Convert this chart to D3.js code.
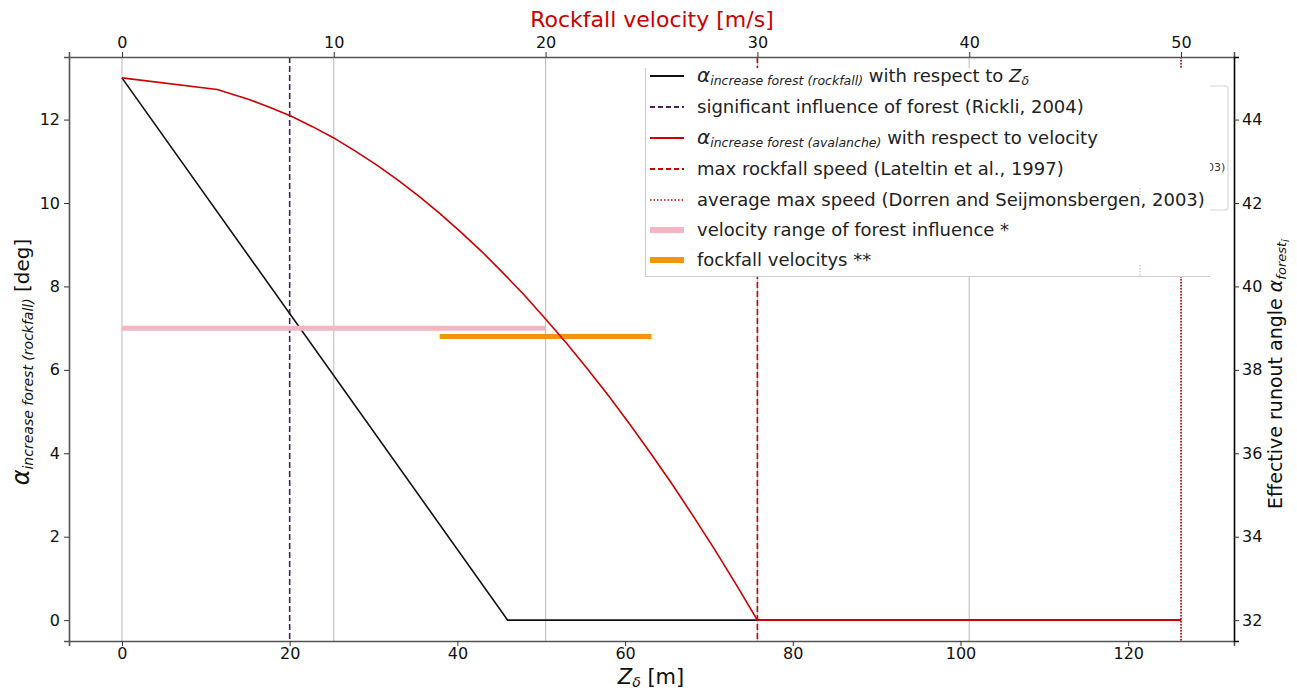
<!DOCTYPE html>
<html>
<head>
<meta charset="utf-8">
<script src="https://cdn.jsdelivr.net/npm/d3@7/dist/d3.min.js"></script>
<style>
  html, body { margin: 0; padding: 0; background: #fff; }
  svg { display: block; font-family: "DejaVu Sans", sans-serif; }
</style>
</head>
<body>
<svg id="chart" width="1297" height="691"></svg>
<script>
// ---- data ----
const zTicks = [0, 20, 40, 60, 80, 100, 120];
const velocityTicks = [0, 10, 20, 30, 40, 50];
const alphaTicks = [0, 2, 4, 6, 8, 10, 12];
const runoutTicks = [32, 34, 36, 38, 40, 42, 44];

// alpha increase (rockfall) vs Z_delta [m]
const rockfallZ = [0, 46, 126.3];
const rockfallAlpha = [13, 0, 0];

// alpha increase (avalanche) vs rockfall velocity [m/s]
const avalancheV = [0, 4.5, 6, 7, 8, 9, 10, 11, 12, 13, 14, 15, 16, 17, 18, 19, 20,
                    21, 22, 23, 24, 25, 26, 27, 28, 29, 30, 50];
const avalancheAlpha = [13, 12.72, 12.48, 12.29, 12.08, 11.83, 11.56, 11.25, 10.92, 10.56, 10.17, 9.75, 9.3,
                        8.83, 8.32, 7.79, 7.22, 6.63, 6.01, 5.36, 4.68, 3.97, 3.24, 2.47, 1.68, 0.85, 0, 0];

// reference lines
const forestInfluenceZ = 20;      // Rickli, 2004
const maxRockfallSpeedV = 30;     // Lateltin et al., 1997
const avgMaxSpeedV = 50;          // Dorren and Seijmonsbergen, 2003

// velocity ranges
const forestRangeV = [0, 20];
const forestRangeAlpha = 7.0;
const rockfallRangeV = [15, 25];
const rockfallRangeAlpha = 6.8;

const runoutOffset = 32;

// ---- layout ----
const svg = d3.select("#chart");
const L = 69, R = 1234, T = 57, B = 641;

const xZ = d3.scaleLinear().domain([-6.315, 132.615]).range([L, R]);
const xV = d3.scaleLinear().domain([-2.5, 52.5]).range([L, R]);
const y = d3.scaleLinear().domain([-0.5, 13.5]).range([B, T]);
const yR = d3.scaleLinear().domain([-0.5 + runoutOffset, 13.5 + runoutOffset]).range([B, T]);

const RED = "#cc0000";

// grid lines from the velocity axis
svg.append("g").selectAll("line").data(velocityTicks).join("line")
  .attr("x1", d => xV(d)).attr("x2", d => xV(d))
  .attr("y1", T).attr("y2", B)
  .attr("stroke", "#c4c4c4").attr("stroke-width", 1.2);

// reference lines
svg.append("line")
  .attr("x1", xZ(forestInfluenceZ)).attr("x2", xZ(forestInfluenceZ))
  .attr("y1", T).attr("y2", B)
  .attr("stroke", "#4a2060").attr("stroke-width", 1.6).attr("stroke-dasharray", "6,3");
svg.append("line")
  .attr("x1", xV(maxRockfallSpeedV)).attr("x2", xV(maxRockfallSpeedV))
  .attr("y1", T).attr("y2", B)
  .attr("stroke", RED).attr("stroke-width", 1.6).attr("stroke-dasharray", "6,3");
svg.append("line")
  .attr("x1", xV(avgMaxSpeedV)).attr("x2", xV(avgMaxSpeedV))
  .attr("y1", T).attr("y2", B)
  .attr("stroke", RED).attr("stroke-width", 1.6).attr("stroke-dasharray", "1.5,1.5");

// rockfall curve
const rockLine = d3.line().x(d => xZ(d[0])).y(d => y(d[1]));
svg.append("path")
  .datum(rockfallZ.map((z, i) => [z, rockfallAlpha[i]]))
  .attr("d", rockLine).attr("fill", "none")
  .attr("stroke", "#111").attr("stroke-width", 1.6);

// velocity ranges
svg.append("line")
  .attr("x1", xV(forestRangeV[0])).attr("x2", xV(forestRangeV[1]))
  .attr("y1", y(forestRangeAlpha)).attr("y2", y(forestRangeAlpha))
  .attr("stroke", "#f5b5c3").attr("stroke-width", 5);
svg.append("line")
  .attr("x1", xV(rockfallRangeV[0])).attr("x2", xV(rockfallRangeV[1]))
  .attr("y1", y(rockfallRangeAlpha)).attr("y2", y(rockfallRangeAlpha))
  .attr("stroke", "#f0960c").attr("stroke-width", 5);

// avalanche curve
const avLine = d3.line().x(d => xV(d[0])).y(d => y(d[1]));
svg.append("path")
  .datum(avalancheV.map((v, i) => [v, avalancheAlpha[i]]))
  .attr("d", avLine).attr("fill", "none")
  .attr("stroke", RED).attr("stroke-width", 1.6);

// ---- legend (with an older frame peeking out behind it) ----
svg.append("rect")
  .attr("x", 900).attr("y", 86).attr("width", 328).attr("height", 124)
  .attr("rx", 3).attr("fill", "#fff").attr("stroke", "#d6d6d6").attr("stroke-width", 1.2);
svg.append("text").attr("x", 1207).attr("y", 171)
  .attr("font-size", 11).attr("fill", "#333").text("03)");

const lg = svg.append("g");
lg.append("rect").attr("x", 645).attr("y", 68).attr("width", 565).attr("height", 209)
  .attr("fill", "#fff");
lg.append("path").attr("d", "M645.5,68 V276.5 H1210")
  .attr("fill", "none").attr("stroke", "#cfcfcf").attr("stroke-width", 1.2);

// faint leftovers of the dotted line inside the legend area
[[188, 196], [265, 277]].forEach(([a, b]) => {
  lg.append("line").attr("x1", 1140).attr("x2", 1140).attr("y1", a).attr("y2", b)
    .attr("stroke", "#f3b9bf").attr("stroke-width", 1.4).attr("stroke-dasharray", "1.5,1.5");
});

const rows = [76, 107, 138, 169, 200, 230, 260];
const hx0 = 650, hx1 = 684, tx = 697, fs = 18;
const handles = [
  { stroke: "#111", w: 1.8, dash: null },
  { stroke: "#4a2060", w: 1.8, dash: "5,3" },
  { stroke: RED, w: 1.8, dash: null },
  { stroke: RED, w: 1.8, dash: "5,3" },
  { stroke: RED, w: 1.6, dash: "1.5,2" },
  { stroke: "#f5b5c3", w: 6, dash: null },
  { stroke: "#f0960c", w: 6, dash: null }
];
handles.forEach((h, i) => {
  const ln = lg.append("line").attr("x1", hx0).attr("x2", hx1)
    .attr("y1", rows[i]).attr("y2", rows[i])
    .attr("stroke", h.stroke).attr("stroke-width", h.w);
  if (h.dash) ln.attr("stroke-dasharray", h.dash);
});

function alphaEntry(row, sub, rest, tail) {
  const t = lg.append("text").attr("x", tx).attr("y", row + 6).attr("font-size", fs).attr("fill", "#222");
  t.append("tspan").attr("font-style", "italic").attr("font-size", 20).text("α");
  t.append("tspan").attr("font-style", "italic").attr("font-size", 12.5).attr("dy", 3).text(sub);
  t.append("tspan").attr("dy", -3).text(rest);
  if (tail) tail(t);
}
alphaEntry(rows[0], "increase forest (rockfall)", " with respect to ", t => {
  t.append("tspan").attr("font-style", "italic").text("Z");
  t.append("tspan").attr("font-style", "italic").attr("font-size", 12.5).attr("dy", 3).text("δ");
});
const plain = [
  [1, "significant influence of forest (Rickli, 2004)"],
  [3, "max rockfall speed (Lateltin et al., 1997)"],
  [4, "average max speed (Dorren and Seijmonsbergen, 2003)"],
  [5, "velocity range of forest influence *"],
  [6, "fockfall velocitys **"]
];
plain.forEach(([i, s]) => {
  lg.append("text").attr("x", tx).attr("y", rows[i] + 6).attr("font-size", fs)
    .attr("fill", "#222").text(s);
});
alphaEntry(rows[2], "increase forest (avalanche)", " with respect to velocity");

// ---- axes ----
const tickFont = 16;
const axB = svg.append("g").attr("transform", `translate(0,${B})`)
  .call(d3.axisBottom(xZ).tickValues(zTicks).tickSize(5).tickPadding(2));
const axT = svg.append("g").attr("transform", `translate(0,${T})`)
  .call(d3.axisTop(xV).tickValues(velocityTicks).tickSize(5).tickPadding(4));
const axL = svg.append("g").attr("transform", `translate(${L},0)`)
  .call(d3.axisLeft(y).tickValues(alphaTicks).tickSize(5).tickPadding(4));
const axR = svg.append("g").attr("transform", `translate(${R},0)`)
  .call(d3.axisRight(yR).tickValues(runoutTicks).tickSize(5).tickPadding(3));

[axB, axT, axL, axR].forEach(g => {
  g.selectAll("text").attr("font-size", tickFont).attr("font-family", "DejaVu Sans").attr("fill", "#111");
  g.selectAll(".tick line").attr("stroke", "#333");
});
[axB, axT, axL].forEach(g => g.select(".domain").attr("stroke", "#555").attr("stroke-width", 1.6));
axR.select(".domain").attr("stroke", "#000").attr("stroke-width", 1.6);

// ---- axis titles ----
svg.append("text").attr("x", 652).attr("y", 27).attr("text-anchor", "middle")
  .attr("font-size", 22).attr("fill", RED).text("Rockfall velocity [m/s]");

const zl = svg.append("text").attr("x", 651).attr("y", 684).attr("text-anchor", "middle")
  .attr("font-size", 21).attr("fill", "#111");
zl.append("tspan").attr("font-style", "italic").text("Z");
zl.append("tspan").attr("font-style", "italic").attr("font-size", 14).attr("dy", 3).text("δ");
zl.append("tspan").attr("dy", -3).text(" [m]");

const yl = svg.append("text").attr("transform", "translate(29,362) rotate(-90)")
  .attr("text-anchor", "middle").attr("font-size", 20).attr("fill", "#111");
yl.append("tspan").attr("font-style", "italic").attr("font-size", 24).text("α");
yl.append("tspan").attr("font-style", "italic").attr("font-size", 14).attr("dy", 4).text("increase forest (rockfall)");
yl.append("tspan").attr("dy", -4).text(" [deg]");

const yr = svg.append("text").attr("transform", "translate(1282,374) rotate(-90)")
  .attr("text-anchor", "middle").attr("font-size", 19).attr("fill", "#111");
yr.append("tspan").text("Effective runout angle ");
yr.append("tspan").attr("font-style", "italic").text("α");
yr.append("tspan").attr("font-style", "italic").attr("font-size", 13).attr("dy", 4).text("forest");
yr.append("tspan").attr("font-style", "italic").attr("font-size", 10).attr("dy", 3).text("i");
</script>
</body>
</html>
